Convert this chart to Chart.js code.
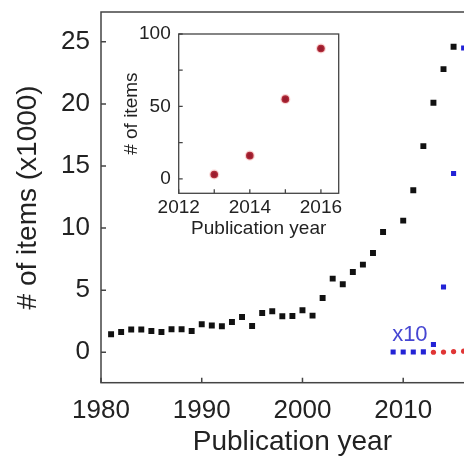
<!DOCTYPE html>
<html>
<head>
<meta charset="utf-8">
<script src="https://cdn.jsdelivr.net/npm/chart.js@4.4.1/dist/chart.umd.min.js"></script>
<style>
  body { margin: 0; background: #fff; }
  #wrap { position: relative; width: 464px; height: 457px; overflow: hidden; }
  #main { position: absolute; left: 0; top: 0; }
  #inset { position: absolute; left: 100px; top: 20px; }
</style>
</head>
<body>
<div id="wrap">
  <canvas id="main" width="488" height="457"></canvas>
  <canvas id="inset" width="250" height="240"></canvas>
</div>
<script>
// data (satuan ribuan)
const blackYears = [1981,1982,1983,1984,1985,1986,1987,1988,1989,1990,1991,1992,1993,1994,1995,1996,1997,1998,1999,2000,2001,2002,2003,2004,2005,2006,2007,2008,2009,2010,2011,2012,2013,2014,2015];
const blackValues = [1.45,1.64,1.83,1.83,1.72,1.64,1.85,1.85,1.72,2.25,2.15,2.09,2.44,2.84,2.12,3.17,3.30,2.90,2.92,3.38,2.95,4.37,5.93,5.48,6.47,7.06,8.0,9.69,null,10.6,13.04,16.6,20.1,22.8,24.6];

// seri biru (x10)
const blueYears = [2009,2010,2011,2012,2013,2014,2015,2016];
const blueValues = [0.02,0.02,0.02,0.03,0.62,5.26,14.4,24.5];

// seri merah di plot utama (ribuan) + inset (jumlah asli)
const redYears = [2013,2014,2015,2016];
const redMainValues = [0.003,0.017,0.055,0.09];
const insetValues = [3,16,55,90];

const mainXTicks = [1980,1990,2000,2010];
const mainYTicks = [0,5,10,15,20,25];
const insetXLabels = [2012,2014,2016];
const insetYLabels = [0,50,100];

const FONT = "'Liberation Sans', Arial, sans-serif";

function toPoints(xs, ys) {
  return xs.map((x, i) => ({ x: x, y: ys[i] }));
}

// bingkai + tick ke dalam
const framePlugin = {
  id: 'frame',
  afterDraw(chart, args, opts) {
    const { ctx, chartArea: a, scales } = chart;
    ctx.save();
    ctx.strokeStyle = opts.color;
    ctx.lineWidth = opts.width;
    ctx.strokeRect(a.left, a.top, a.right - a.left, a.bottom - a.top);
    ctx.beginPath();
    scales.x.ticks.forEach(t => {
      const px = scales.x.getPixelForValue(t.value);
      ctx.moveTo(px, a.bottom);
      ctx.lineTo(px, a.bottom - opts.tick);
    });
    scales.y.ticks.forEach(t => {
      const py = scales.y.getPixelForValue(t.value);
      ctx.moveTo(a.left, py);
      ctx.lineTo(a.left + opts.tick, py);
    });
    ctx.stroke();
    if (opts.note) {
      ctx.fillStyle = opts.note.color;
      ctx.font = opts.note.font;
      ctx.textAlign = 'left';
      ctx.textBaseline = 'bottom';
      ctx.fillText(opts.note.text, scales.x.getPixelForValue(opts.note.x), scales.y.getPixelForValue(opts.note.y));
    }
    ctx.restore();
  }
};

// biar chart area ngga kegeser gara2 label tick
function noPadY(s, w) { s.width = w; s.paddingTop = 0; s.paddingBottom = 0; }
function noPadX(s, h) { s.height = h; s.paddingLeft = 0; s.paddingRight = 0; }

const mainChart = new Chart(document.getElementById('main'), {
  type: 'scatter',
  data: {
    datasets: [
      {
        label: 'total',
        data: toPoints(blackYears, blackValues),
        pointStyle: 'rect',
        pointRadius: 4.2,
        backgroundColor: '#111',
        borderWidth: 0
      },
      {
        label: 'x10',
        data: toPoints(blueYears, blueValues),
        pointStyle: 'rect',
        pointRadius: 3.6,
        backgroundColor: '#2323d6',
        borderWidth: 0
      },
      {
        label: 'red',
        data: toPoints(redYears, redMainValues),
        pointStyle: 'circle',
        pointRadius: 2.6,
        backgroundColor: '#e03535',
        borderWidth: 0
      }
    ]
  },
  options: {
    responsive: false,
    animation: false,
    devicePixelRatio: 1,
    layout: { padding: { top: 12, right: 0, left: 0, bottom: 0 } },
    plugins: {
      legend: { display: false },
      tooltip: { enabled: false },
      frame: {
        color: '#444', width: 1.5, tick: 5,
        note: { text: 'x10', x: 2008.9, y: 0.55, color: '#4646d2', font: '22px ' + FONT }
      }
    },
    scales: {
      x: {
        type: 'linear',
        min: 1980, max: 2018,
        grid: { display: false, drawTicks: false },
        border: { display: false },
        afterBuildTicks: s => { s.ticks = mainXTicks.map(v => ({ value: v })); },
        afterFit: s => noPadX(s, 74.3),
        ticks: { color: '#222', font: { family: FONT, size: 26 }, padding: 13, autoSkip: false, maxRotation: 0, callback: v => String(v) },
        title: { display: true, text: 'Publication year', color: '#222', font: { family: FONT, size: 28, lineHeight: 1 }, padding: { top: 0, bottom: 1 } }
      },
      y: {
        min: -2.45, max: 27.4,
        grid: { display: false, drawTicks: false },
        border: { display: false },
        afterBuildTicks: s => { s.ticks = mainYTicks.map(v => ({ value: v })); },
        afterFit: s => noPadY(s, 101),
        ticks: { color: '#222', font: { family: FONT, size: 26 }, padding: 11 },
        title: { display: true, text: '# of items (x1000)', color: '#222', font: { family: FONT, size: 28, lineHeight: 1 }, padding: { top: 14, bottom: 0 } }
      }
    }
  },
  plugins: [framePlugin]
});

const insetChart = new Chart(document.getElementById('inset'), {
  type: 'scatter',
  data: {
    datasets: [{
      label: 'inset',
      data: toPoints(redYears, insetValues),
      pointStyle: 'circle',
      pointRadius: 3.8,
      backgroundColor: '#9c1c2e',
      borderColor: 'rgba(235,90,90,0.25)',
      borderWidth: 2.5
    }]
  },
  options: {
    responsive: false,
    animation: false,
    devicePixelRatio: 1,
    layout: { padding: { top: 14, right: 11.3, left: 0, bottom: 0 } },
    plugins: {
      legend: { display: false },
      tooltip: { enabled: false },
      frame: { color: '#444', width: 1.3, tick: 4 }
    },
    scales: {
      x: {
        type: 'linear',
        min: 2012, max: 2016.5,
        grid: { display: false, drawTicks: false },
        border: { display: false },
        afterBuildTicks: s => { s.ticks = [2012, 2013, 2014, 2015, 2016].map(v => ({ value: v })); },
        afterFit: s => noPadX(s, 66.7),
        ticks: {
          color: '#222', font: { family: FONT, size: 19 }, padding: 3, autoSkip: false, maxRotation: 0,
          callback: v => insetXLabels.includes(v) ? String(v) : ''
        },
        title: { display: true, text: 'Publication year', color: '#222', font: { family: FONT, size: 19, lineHeight: 1 }, padding: { top: 0, bottom: 21.5 } }
      },
      y: {
        min: -10, max: 100,
        grid: { display: false, drawTicks: false },
        border: { display: false },
        afterBuildTicks: s => { s.ticks = [0, 25, 50, 75, 100].map(v => ({ value: v })); },
        afterFit: s => noPadY(s, 78.7),
        ticks: {
          color: '#222', font: { family: FONT, size: 19 }, padding: 8,
          callback: v => insetYLabels.includes(v) ? String(v) : ''
        },
        title: { display: true, text: '# of items', color: '#222', font: { family: FONT, size: 19, lineHeight: 1 }, padding: { top: 22, bottom: 0 } }
      }
    }
  },
  plugins: [framePlugin]
});
</script>
</body>
</html>
